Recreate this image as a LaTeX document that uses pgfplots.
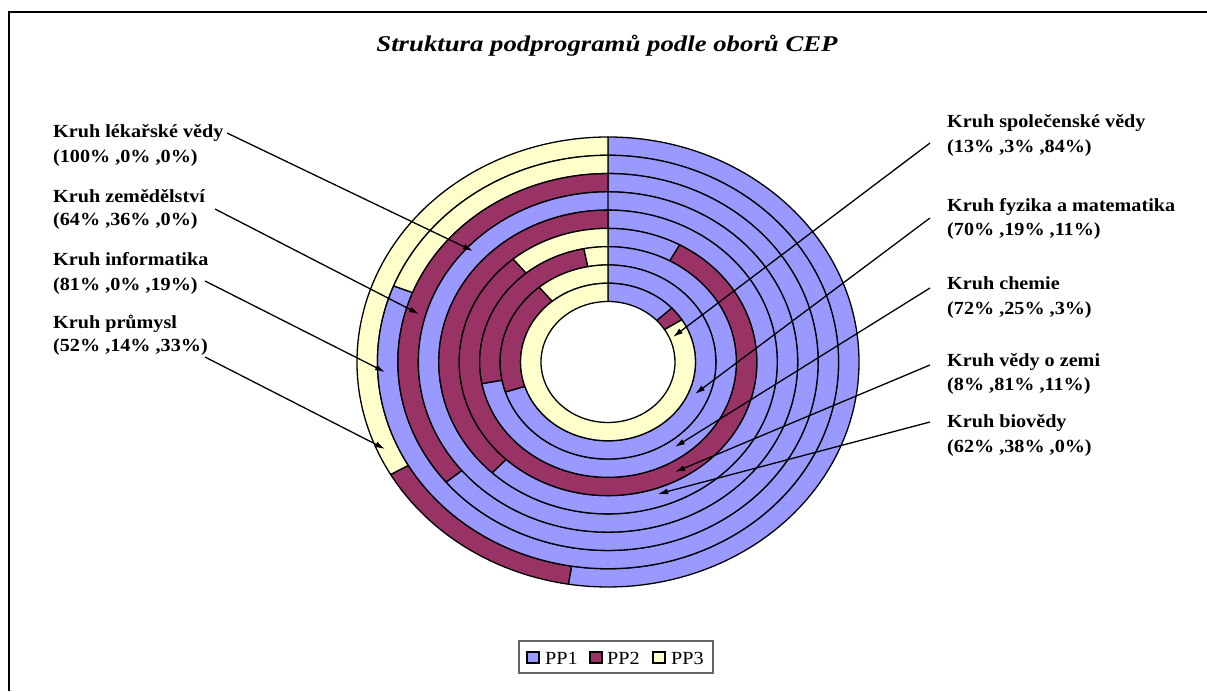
\documentclass[border=0pt]{standalone}
\usepackage{pgfplots}
\pgfplotsset{compat=1.18}
\usepackage{pgfplotstable}
\usepackage{fontspec}
\setmainfont{Liberation Serif}
\newfontfamily\lblfont[FakeStretch=1.09]{Liberation Serif}
\newfontfamily\ttlfont[FakeStretch=1.19]{Liberation Serif}
\usetikzlibrary{arrows.meta}
\definecolor{ppA}{HTML}{9999FF}
\definecolor{ppB}{HTML}{993366}
\definecolor{ppC}{HTML}{FFFFCC}

% rings from the outside to the inside: PP1 PP2 PP3 (percent)
\pgfplotstableread{
ring a b c
prumysl 52 14 33
informatika 81 0 19
zemedelstvi 64 36 0
lekarske 100 0 0
biovedy 62 38 0
vedyozemi 8 81 11
chemie 72 25 3
fyzika 70 19 11
spolecenske 13 3 84
}\ringdata

\def\cx{608}\def\cy{-362}
\def\RXO{251}\def\RYO{225}\def\RXI{67}\def\RYI{60.5}

\newcommand\seg[3]{%
  \pgfmathsetmacro\ta{90-3.6*((#1)/\tot*100)}%
  \pgfmathsetmacro\tb{90-3.6*((#2)/\tot*100)}%
  \pgfmathsetmacro\xa{\cx+\rxo*cos(\ta)}%
  \pgfmathsetmacro\ya{\cy+\ryo*sin(\ta)}%
  \pgfmathsetmacro\xb{\cx+\rxi*cos(\tb)}%
  \pgfmathsetmacro\yb{\cy+\ryi*sin(\tb)}%
  \filldraw[fill=#3,draw=black,line width=1.3pt,line join=round]
    (axis cs:\xa,\ya) arc[start angle=\ta,end angle=\tb,x radius=\rxo pt,y radius=\ryo pt]
    -- (axis cs:\xb,\yb) arc[start angle=\tb,end angle=\ta,x radius=\rxi pt,y radius=\ryi pt] -- cycle;
}

\begin{document}
\begin{tikzpicture}
\useasboundingbox (0,0) rectangle (1207pt,691pt);
\begin{axis}[x=1pt,y=1pt,xmin=0,xmax=1207,ymin=-691,ymax=0,
  hide axis,clip=false,at={(0pt,691pt)},anchor=origin]
\pgfplotsextra{%
  \foreach \i in {0,...,8}{%
    \pgfplotstablegetelem{\i}{a}\of\ringdata \let\va\pgfplotsretval
    \pgfplotstablegetelem{\i}{b}\of\ringdata \let\vb\pgfplotsretval
    \pgfplotstablegetelem{\i}{c}\of\ringdata \let\vc\pgfplotsretval
    \pgfmathsetmacro\tot{\va+\vb+\vc}%
    \pgfmathsetmacro\ca{\va}%
    \pgfmathsetmacro\cb{\va+\vb}%
    \pgfmathsetmacro\rxo{\RXO-\i*(\RXO-\RXI)/9}%
    \pgfmathsetmacro\ryo{\RYO-\i*(\RYO-\RYI)/9}%
    \pgfmathsetmacro\rxi{\RXO-(\i+1)*(\RXO-\RXI)/9}%
    \pgfmathsetmacro\ryi{\RYO-(\i+1)*(\RYO-\RYI)/9}%
    \ifdim \va pt>0pt \seg{0}{\ca}{ppA}\fi
    \ifdim \vb pt>0pt \seg{\ca}{\cb}{ppB}\fi
    \ifdim \vc pt>0pt \seg{\cb}{\tot}{ppC}\fi
  }%
}
% frame
\draw[line width=1.6pt] (axis cs:1207,-12) -- (axis cs:9,-12) -- (axis cs:9,-691);
% title
\node[font={\ttlfont\fontsize{22.5}{26}\selectfont\bfseries\itshape}] at (axis cs:607,-46) {Struktura podprogramů podle oborů CEP};
% labels
\begin{scope}[every node/.style={anchor=base west,inner sep=0pt,font={\lblfont\fontsize{18.5}{22}\selectfont\bfseries}}]
\node at (axis cs:53,-138) {Kruh lékařské vědy};
\node at (axis cs:53,-163) {(100\% ,0\% ,0\%)};
\node at (axis cs:53,-203) {Kruh zemědělství};
\node at (axis cs:53,-226) {(64\% ,36\% ,0\%)};
\node at (axis cs:53,-266) {Kruh informatika};
\node at (axis cs:53,-291) {(81\% ,0\% ,19\%)};
\node at (axis cs:53,-329) {Kruh průmysl};
\node at (axis cs:53,-352) {(52\% ,14\% ,33\%)};
\node at (axis cs:947,-128) {Kruh společenské vědy};
\node at (axis cs:947,-153) {(13\% ,3\% ,84\%)};
\node at (axis cs:947,-212) {Kruh fyzika a matematika};
\node at (axis cs:947,-236) {(70\% ,19\% ,11\%)};
\node at (axis cs:947,-290) {Kruh chemie};
\node at (axis cs:947,-315) {(72\% ,25\% ,3\%)};
\node at (axis cs:947,-367) {Kruh vědy o zemi};
\node at (axis cs:947,-391) {(8\% ,81\% ,11\%)};
\node at (axis cs:947,-428) {Kruh biovědy};
\node at (axis cs:947,-453) {(62\% ,38\% ,0\%)};
\end{scope}
% leader arrows
\begin{scope}[line width=1.3pt,-{Latex[length=10pt,width=6pt]}]
\draw (axis cs:227,-133) -- (axis cs:473,-251);
\draw (axis cs:215,-209) -- (axis cs:419,-314);
\draw (axis cs:205,-281) -- (axis cs:385,-372);
\draw (axis cs:205,-357) -- (axis cs:385,-449);
\draw (axis cs:930,-143) -- (axis cs:673,-337);
\draw (axis cs:930,-218) -- (axis cs:695,-394);
\draw (axis cs:930,-288) -- (axis cs:675,-447);
\draw (axis cs:930,-365) -- (axis cs:675,-472);
\draw (axis cs:930,-422) -- (axis cs:658,-494);
\end{scope}
% legend
\draw[black!60,line width=1.5pt,fill=white] (axis cs:519,-641) rectangle (axis cs:713,-673);
\filldraw[fill=ppA,draw=black,line width=1.3pt] (axis cs:527,-652) rectangle (axis cs:539,-663);
\filldraw[fill=ppB,draw=black,line width=1.3pt] (axis cs:590,-652) rectangle (axis cs:602,-663);
\filldraw[fill=ppC,draw=black,line width=1.3pt] (axis cs:653,-652) rectangle (axis cs:665,-663);
\begin{scope}[every node/.style={anchor=base west,inner sep=0pt,font={\lblfont\fontsize{18.5}{22}\selectfont}}]
\node at (axis cs:545,-664) {PP1};
\node at (axis cs:607,-664) {PP2};
\node at (axis cs:671,-664) {PP3};
\end{scope}
\end{axis}
\end{tikzpicture}
\end{document}
